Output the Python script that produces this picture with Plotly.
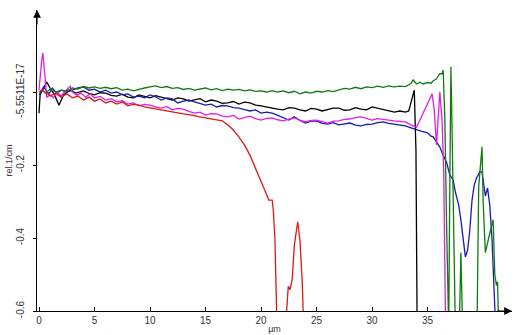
import plotly.graph_objects as go

# ---------------- data (µm, rel.1/cm) ----------------
black_x = [0, 0.1, 0.3, 0.7, 1.0, 1.4, 1.8, 2.2, 2.8, 3.3, 4, 4.5, 5, 5.5, 6, 6.5, 7, 7.5, 8, 8.5,
           9, 9.5, 10, 10.5, 11, 11.5, 12, 12.5, 13, 13.5, 14, 14.5, 15, 15.5, 16, 16.5, 17, 17.5,
           18, 18.5, 19, 19.5, 20, 20.5, 21, 21.5, 22, 22.5, 23, 23.5, 24, 24.5, 25, 25.5, 26, 26.5,
           27, 27.5, 28, 28.5, 29, 29.5, 30, 30.5, 31, 31.5, 32, 32.5, 33, 33.3, 33.6, 33.8, 33.95, 34.05]
black_y = [-0.058, -0.008, 0.005, 0.027, 0.011, -0.008, -0.036, -0.008, 0.005, -0.003, 0.003, -0.004,
           -0.008, -0.002, -0.003, -0.009, -0.011, -0.006, -0.014, -0.016, -0.008, -0.012, -0.016, -0.010,
           -0.014, -0.019, -0.022, -0.016, -0.019, -0.025, -0.022, -0.018, -0.027, -0.022, -0.025, -0.031,
           -0.030, -0.026, -0.033, -0.028, -0.030, -0.036, -0.038, -0.040, -0.044, -0.047, -0.049, -0.043,
           -0.044, -0.049, -0.052, -0.045, -0.047, -0.052, -0.049, -0.044, -0.044, -0.050, -0.049, -0.043,
           -0.047, -0.049, -0.041, -0.045, -0.047, -0.051, -0.055, -0.052, -0.055, -0.052, -0.022, 0.005,
           -0.16, -0.62]

blue_x = [0, 0.2, 0.4, 0.6, 0.9, 1.2, 1.6, 2.0, 2.5, 3.0, 3.5, 4, 4.5, 5, 5.5, 6, 6.5, 7, 7.5, 8, 8.5,
          9, 9.5, 10, 10.5, 11, 11.5, 12, 12.5, 13, 13.5, 14, 14.5, 15, 15.5, 16, 16.5, 17, 17.5, 18, 18.5,
          19, 19.5, 20, 20.5, 21, 21.5, 22, 22.5, 23, 23.5, 24, 24.5, 25, 25.5, 26, 26.5, 27, 27.5, 28,
          28.5, 29, 29.5, 30, 30.5, 31, 31.5, 32, 32.5, 33, 33.5, 34, 34.5, 35, 35.3, 35.5, 35.8, 36.1,
          36.4, 36.7, 37.0, 37.3, 37.5, 37.8, 38.0, 38.2, 38.4, 38.6, 38.8, 39.0, 39.2, 39.4, 39.7, 39.9,
          40.0, 40.2, 40.4, 40.6, 40.8, 41.0, 41.1, 41.2]
blue_y = [-0.008, 0.000, 0.014, 0.005, -0.005, 0.011, -0.003, 0.005, 0.000, 0.005, 0.011, 0.014, 0.005,
          0.008, 0.000, 0.005, -0.003, 0.000, -0.008, -0.005, -0.014, -0.011, -0.016, -0.008, -0.013,
          -0.022, -0.016, -0.019, -0.030, -0.025, -0.022, -0.027, -0.031, -0.036, -0.033, -0.041, -0.037,
          -0.038, -0.043, -0.044, -0.048, -0.052, -0.049, -0.058, -0.055, -0.058, -0.064, -0.071, -0.077,
          -0.068, -0.078, -0.085, -0.080, -0.079, -0.086, -0.088, -0.084, -0.090, -0.087, -0.085, -0.091,
          -0.093, -0.089, -0.088, -0.084, -0.082, -0.086, -0.088, -0.091, -0.093, -0.098, -0.104, -0.108,
          -0.112, -0.121, -0.123, -0.137, -0.151, -0.173, -0.192, -0.227, -0.241, -0.274, -0.310, -0.351,
          -0.405, -0.452, -0.433, -0.378, -0.296, -0.255, -0.236, -0.219, -0.219, -0.247, -0.285, -0.263,
          -0.310, -0.405, -0.529, -0.60, -0.70]

magenta_x = [0, 0.1, 0.25, 0.35, 0.5, 0.7, 1.0, 1.3, 1.6, 2.0, 2.3, 2.6, 2.8, 3.0, 3.4, 3.8, 4.2, 4.6,
             5, 5.5, 6, 6.5, 7, 7.5, 8, 8.5, 9, 9.5, 10, 10.5, 11, 11.5, 12, 12.5, 13, 13.5, 14, 14.5,
             15, 15.5, 16, 16.5, 17, 17.5, 18, 18.5, 19, 19.5, 20, 20.5, 21, 21.5, 22, 22.5, 23, 23.5,
             24, 24.5, 25, 25.5, 26, 26.5, 27, 27.5, 28, 28.5, 29, 29.5, 30, 30.5, 31, 31.5, 32, 32.5,
             33, 33.5, 34, 34.4, 34.8, 35.2, 35.4, 35.6, 35.8, 36.0, 36.1, 36.3, 36.45, 36.6, 36.7]
magenta_y = [0.005, 0.047, 0.088, 0.107, 0.047, -0.014, -0.008, -0.016, 0.000, -0.011, 0.000, 0.011,
             0.016, 0.000, -0.008, -0.003, -0.014, -0.005, -0.016, -0.012, -0.022, -0.018, -0.027,
             -0.024, -0.033, -0.030, -0.038, -0.034, -0.036, -0.041, -0.044, -0.040, -0.049, -0.045,
             -0.047, -0.053, -0.058, -0.055, -0.063, -0.059, -0.060, -0.066, -0.068, -0.064, -0.074,
             -0.070, -0.066, -0.073, -0.077, -0.072, -0.071, -0.076, -0.079, -0.074, -0.071, -0.077,
             -0.082, -0.078, -0.077, -0.081, -0.085, -0.080, -0.079, -0.075, -0.074, -0.070, -0.068,
             -0.072, -0.077, -0.073, -0.074, -0.077, -0.079, -0.080, -0.082, -0.090, -0.096, -0.071,
             -0.044, -0.016, -0.005, -0.049, -0.145, -0.049, 0.000, -0.077, -0.214, -0.60, -0.70]

green_x = [0, 0.3, 0.6, 1.0, 1.5, 2.0, 2.5, 3.0, 3.5, 4.0, 4.5, 5, 5.5, 6, 6.5, 7, 7.5, 8, 8.5, 9, 9.5,
           10, 10.5, 11, 11.5, 12, 12.5, 13, 13.5, 14, 14.5, 15, 15.5, 16, 16.5, 17, 17.5, 18, 18.5, 19,
           19.5, 20, 20.5, 21, 21.5, 22, 22.5, 23, 23.5, 24, 24.5, 25, 25.5, 26, 26.5, 27, 27.5, 28, 28.5,
           29, 29.5, 30, 30.5, 31, 31.5, 32, 32.5, 33, 33.5, 33.7, 34, 34.3, 34.6, 35, 35.3, 35.5, 35.8,
           36.1, 36.3, 36.4, 36.55, 36.7, 36.8, 36.9, 37.0, 37.1, 37.2, 37.35, 37.5, 37.85, 38.0, 38.15,
           39.45, 39.6, 39.9, 40.0, 40.2, 40.5, 40.9, 41.05, 41.2, 41.3, 41.4]
green_y = [0.000, 0.005, -0.003, 0.008, 0.000, 0.005, 0.003, 0.011, 0.008, 0.015, 0.011, 0.014, 0.010,
           0.013, 0.009, 0.012, 0.005, 0.008, 0.003, 0.008, 0.011, 0.014, 0.017, 0.012, 0.015, 0.010,
           0.012, 0.007, 0.010, 0.005, 0.008, 0.011, 0.006, 0.009, 0.004, 0.008, 0.005, 0.007, 0.003,
           0.006, 0.002, 0.003, 0.000, 0.004, 0.000, 0.003, -0.002, 0.002, -0.005, 0.000, -0.003, 0.002,
           0.000, 0.004, 0.001, 0.005, 0.010, 0.008, 0.013, 0.009, 0.014, 0.012, 0.016, 0.013, 0.017,
           0.014, 0.016, 0.015, 0.023, 0.033, 0.022, 0.027, 0.022, 0.026, 0.024, 0.030, 0.036, 0.050,
           0.050, 0.060, -0.07, -0.35, -0.65, -0.65, -0.25, 0.069, -0.10, -0.40, -0.65, -0.65, -0.44,
           -0.65, -0.65, -0.26, -0.15, -0.30, -0.44, -0.40, -0.35, -0.50, -0.53, -0.52, -0.65]

red_x = [0, 0.2, 0.5, 1.0, 1.5, 2.0, 2.5, 3, 3.5, 4, 4.5, 5, 5.5, 6, 6.5, 7, 7.5, 8, 8.5, 9, 9.5, 10,
         10.5, 11, 11.5, 12, 12.5, 13, 13.5, 14, 14.5, 15, 15.5, 16, 16.5, 17, 17.5, 18, 18.5, 19, 19.5,
         20, 20.4, 20.7, 21.0, 21.1, 21.25, 21.4, 21.5, 22.2, 22.3, 22.45, 22.6, 22.8, 23.0, 23.3, 23.5,
         23.7, 23.8, 23.9]
red_y = [0.000, 0.005, 0.000, -0.011, -0.003, -0.014, -0.005, -0.016, -0.011, -0.022, -0.014, -0.025,
         -0.019, -0.030, -0.025, -0.033, -0.027, -0.038, -0.034, -0.036, -0.041, -0.044, -0.046, -0.049,
         -0.051, -0.055, -0.058, -0.060, -0.062, -0.066, -0.068, -0.071, -0.074, -0.077, -0.079, -0.090,
         -0.104, -0.123, -0.145, -0.173, -0.208, -0.241, -0.274, -0.296, -0.296, -0.323, -0.405, -0.60,
         -0.70, -0.70, -0.60, -0.532, -0.542, -0.515, -0.419, -0.356, -0.405, -0.515, -0.60, -0.70]

x_ticks = [0, 5, 10, 15, 20, 25, 30, 35]
y_ticks = [0, -0.2, -0.4, -0.6]
y_tick_text = ["-5.5511E-17", "-0.2", "-0.4", "-0.6"]

series = [
    ("black", black_x, black_y, "#000000"),
    ("blue", blue_x, blue_y, "#1a1ab4"),
    ("magenta", magenta_x, magenta_y, "#e21ee2"),
    ("green", green_x, green_y, "#117a11"),
    ("red", red_x, red_y, "#e01818"),
]

fig = go.Figure()
for name, xs, ys, col in series:
    fig.add_trace(go.Scatter(x=xs, y=ys, mode="lines", name=name,
                             line=dict(color=col, width=1.3), showlegend=False))

font = dict(family="Liberation Sans, Arial, sans-serif", size=10, color="#333333")

fig.update_layout(
    width=519, height=335,
    margin=dict(l=37, r=7, t=10, b=24),
    paper_bgcolor="white", plot_bgcolor="white",
    font=font,
    xaxis=dict(range=[-0.18, 42.6], tickvals=x_ticks, ticks="inside", ticklen=4,
               tickcolor="black", showline=True, linecolor="black", linewidth=1,
               showgrid=False, zeroline=False, automargin=False,
               tickfont=dict(size=10, color="#333333"),
               title=dict(text="µm", font=dict(size=9, color="#333333"), standoff=0)),
    yaxis=dict(range=[-0.6, 0.2247], tickvals=y_ticks, ticktext=y_tick_text,
               ticks="outside", ticklen=3, tickcolor="black", tickangle=-90,
               showline=True, linecolor="black", linewidth=1, automargin=False,
               ticklabelstandoff=5,
               showgrid=False, zeroline=False, tickfont=dict(size=10, color="#333333"),
               title=dict(text="rel.1/cm", font=dict(size=9, color="#333333"), standoff=0)),
)

# axis arrow heads
fig.add_annotation(xref="paper", yref="paper", x=0, y=1, ax=0, ay=16, text="",
                   showarrow=True, arrowhead=2, arrowsize=1.3, arrowwidth=1.2, arrowcolor="black")
fig.add_annotation(xref="paper", yref="paper", x=1, y=0, ax=-16, ay=0, text="",
                   showarrow=True, arrowhead=2, arrowsize=1.3, arrowwidth=1.2, arrowcolor="black")

fig.write_html("out.html", config={"displayModeBar": False},
               post_script="document.body.style.margin='0';")
